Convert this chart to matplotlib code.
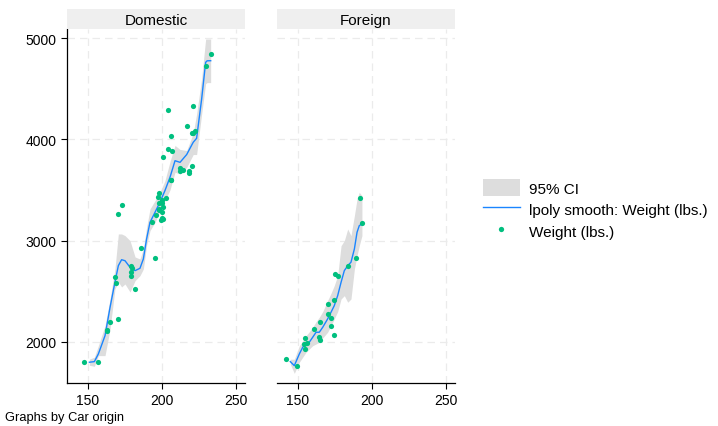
import matplotlib
matplotlib.use("Agg")
import matplotlib.pyplot as plt
from matplotlib.patches import Patch
from matplotlib.lines import Line2D

plt.rcParams['font.family'] = ['Liberation Sans', 'DejaVu Sans']

# auto data: length (in.) and weight (lbs.)
dom_length = [186, 173, 168, 196, 222, 218, 170, 200, 207, 200, 221, 204, 204, 163, 212, 193,
              200, 179, 197, 163, 206, 206, 220, 147, 179, 233, 230, 201, 169, 221, 212, 198,
              217, 195, 220, 198, 198, 218, 200, 180, 206, 170, 157, 165, 182, 201, 214, 198,
              201, 199, 203, 179]
dom_weight = [2930, 3350, 2640, 3250, 4080, 3670, 2230, 3280, 3880, 3400, 4330, 3900, 4290, 2110,
              3690, 3180, 3220, 2750, 3430, 2120, 3600, 3600, 3740, 1800, 2650, 4840, 4720, 3830,
              2580, 4060, 3720, 3370, 4130, 2830, 4060, 3310, 3300, 3690, 3370, 2730, 4030, 3260,
              1800, 2200, 2520, 3330, 3700, 3470, 3210, 3200, 3420, 2690]
for_length = [189, 174, 177, 170, 165, 170, 184, 161, 172, 149, 154, 192, 142, 164, 174, 165,
              175, 172, 155, 155, 156, 193]
for_weight = [2830, 2070, 2650, 2370, 2020, 2280, 2750, 2130, 2240, 1760, 1980, 3420, 1830, 2050,
              2410, 2200, 2670, 2160, 2040, 1930, 1990, 3170]

# lpoly smooth and 95% CI
dom_grid = [150.9, 154.3, 157, 161.5, 164.9, 168.2, 170.5, 172.7, 175, 178.4, 181.8, 185.1,
            187.4, 189.6, 191.9, 195.3, 198.6, 202, 205.4, 208.8, 212.2, 216.7, 221.1, 223.4,
            226.8, 229.5, 230.5, 232.9]
dom_fit = [1800, 1806, 1882, 2062, 2342, 2589, 2753, 2812, 2802, 2737, 2704, 2727, 2819, 3017,
           3181, 3280, 3379, 3494, 3625, 3789, 3773, 3850, 3971, 4010, 4398, 4760, 4775, 4776]
dom_hi = [1830, 1850, 1963, 2161, 2424, 2720, 3066, 3066, 3050, 3000, 2839, 2819, 2918, 3132,
          3313, 3395, 3477, 3592, 3780, 3940, 3900, 3890, 4060, 4250, 4600, 4990, 4990, 4990]
dom_lo = [1770, 1760, 1865, 1865, 2128, 2523, 2592, 2543, 2572, 2493, 2605, 2654, 2720, 2954,
          3099, 3181, 3296, 3395, 3500, 3675, 3658, 3724, 3850, 3850, 4250, 4550, 4560, 4560]

for_grid = [144.8, 147.5, 150.9, 153.2, 155.4, 157.6, 159.9, 162.2, 164.4, 166.7, 170, 172.3,
            174.5, 176.8, 179.1, 181.3, 183.6, 185.8, 188.1, 189.9, 191.4, 193.2]
for_fit = [1806, 1766, 1882, 1948, 1980, 1997, 2046, 2096, 2096, 2145, 2227, 2293, 2358, 2457,
           2589, 2704, 2753, 2787, 2918, 3083, 3148, 3165]
for_hi = [1830, 1830, 1963, 2010, 2062, 2100, 2145, 2200, 2244, 2300, 2408, 2480, 2556, 2654,
          2950, 3000, 3115, 3049, 3247, 3411, 3477, 3444]
for_lo = [1780, 1690, 1800, 1850, 1898, 1930, 1963, 1980, 1997, 2040, 2096, 2160, 2227, 2300,
          2424, 2457, 2392, 2424, 2720, 2852, 2950, 3049]

panels = [("Domestic", dom_length, dom_weight, dom_grid, dom_fit, dom_hi, dom_lo),
          ("Foreign", for_length, for_weight, for_grid, for_fit, for_hi, for_lo)]

c_dot = "#00BF7F"
c_line = "#1A85FF"
c_ci = "#DDDDDD"

W, H = 718, 427
fig = plt.figure(figsize=(W / 100, H / 100), dpi=100)

lefts = [67, 277]
for i, (name, xs, ys, gx, gy, hi, lo) in enumerate(panels):
    ax = fig.add_axes([lefts[i] / W, 43 / H, 178 / W, 354 / H])
    ax.fill_between(gx, lo, hi, color=c_ci, lw=0, zorder=1)
    ax.plot(gx, gy, color=c_line, lw=1.0, zorder=2)
    ax.scatter(xs, ys, s=14, color=c_dot, lw=0, zorder=3)
    ax.set_xlim(135.8, 256.1)
    ax.set_ylim(1595, 5089)
    ax.set_xticks([150, 200, 250])
    ax.set_yticks([2000, 3000, 4000, 5000])
    ax.grid(True, color="#EBEBEB", ls=(0, (6, 4)), lw=0.9)
    ax.set_axisbelow(True)
    for s in ["top", "right"]:
        ax.spines[s].set_visible(False)
    ax.spines["bottom"].set_linewidth(0.9)
    ax.spines["left"].set_linewidth(0.9)
    ax.tick_params(labelsize=10, length=4, width=0.8, colors="black")
    if i == 1:
        ax.spines["left"].set_visible(False)
        ax.tick_params(axis="y", left=False, labelleft=False)
    # panel title strip
    hdr = fig.add_axes([lefts[i] / W, (H - 30) / H, 178 / W, 20 / H])
    hdr.set_facecolor("#EFEFEF")
    hdr.set_xticks([])
    hdr.set_yticks([])
    for s in hdr.spines.values():
        s.set_visible(False)
    hdr.text(0.5, 0.45, name, ha="center", va="center", fontsize=11)

handles = [Patch(facecolor=c_ci, edgecolor="none"),
           Line2D([], [], color=c_line, lw=1.0),
           Line2D([], [], marker="o", color=c_dot, ls="none", markersize=3.8, markeredgewidth=0)]
labels = ["95% CI", "lpoly smooth: Weight (lbs.)", "Weight (lbs.)"]
fig.legend(handles, labels, loc="center left", bbox_to_anchor=(483 / W, 1 - 210 / H),
           frameon=False, fontsize=11, handlelength=2.4, handleheight=1.3,
           labelspacing=0.32, handletextpad=0.6, borderaxespad=0, borderpad=0)

fig.text(5 / W, 1 - 418 / H, "Graphs by Car origin", fontsize=9.3, va="center")

fig.savefig("out.png", dpi=100)
